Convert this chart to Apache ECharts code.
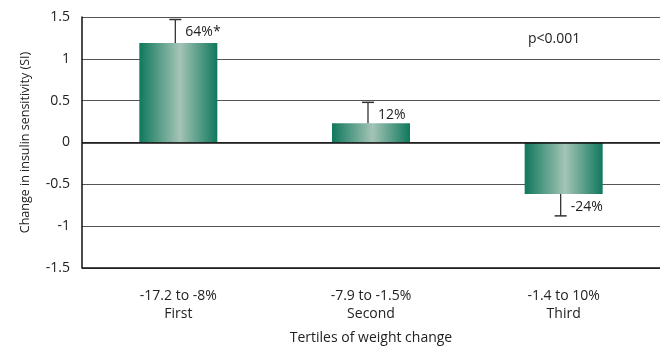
<!DOCTYPE html>
<html><head><meta charset="utf-8">
<script src="https://cdn.jsdelivr.net/npm/echarts@6/dist/echarts.min.js"></script>
<style>html,body{margin:0;padding:0;background:#fff}#c{width:661px;height:347px}</style>
</head><body><div id="c"></div>
<script>
const ranges = ['-17.2 to -8%', '-7.9 to -1.5%', '-1.4 to 10%'];
const tertiles = ['First', 'Second', 'Third'];
const values = [1.19, 0.23, -0.615];
const errorEnds = [1.47, 0.48, -0.877];
const pctLabels = ['64%*', '12%', '-24%'];
const yTicks = [-1.5, -1, -0.5, 0, 0.5, 1, 1.5];
const pText = 'p<0.001';

const FONT = '"Open Sans", sans-serif';
const categories = ranges.map((r, i) => r + '\n' + tertiles[i]);

const chart = echarts.init(document.getElementById('c'));
chart.setOption({
  animation: false,
  grid: { left: 82, right: 1, top: 17, bottom: 79, containLabel: false, outerBoundsMode: 'none' },
  xAxis: {
    type: 'category', data: categories,
    name: 'Tertiles of weight change', nameLocation: 'middle', nameGap: 63,
    nameTextStyle: { fontFamily: FONT, fontSize: 14, color: '#222' },
    axisLine: { show: false }, axisTick: { show: false },
    axisLabel: { fontFamily: FONT, fontSize: 14, color: '#222', lineHeight: 18, margin: 19 }
  },
  yAxis: {
    type: 'value', min: -1.5, max: 1.5, interval: 0.5,
    name: 'Change in insulin sensitivity (SI)', nameLocation: 'middle', nameGap: 50,
    nameTextStyle: { fontFamily: FONT, fontSize: 12.5, color: '#222' },
    axisLine: { show: true, onZero: false, lineStyle: { color: '#111', width: 1.5 } },
    axisTick: { show: false },
    axisLabel: { fontFamily: FONT, fontSize: 14, color: '#222', margin: 12,
      formatter: v => yTicks.includes(v) ? String(v) : '' },
    splitLine: { show: true, lineStyle: { color: '#555', width: 1.2 } }
  },
  graphic: [{
    type: 'text', left: 528, top: 32,
    style: { text: pText, font: '14px ' + FONT, fill: '#222' }
  }],
  series: [{
    type: 'bar', data: values, barWidth: 78,
    itemStyle: {
      color: new echarts.graphic.LinearGradient(0, 0, 1, 0, [
        { offset: 0, color: '#0f785c' },
        { offset: 0.52, color: '#a4c4b6' },
        { offset: 1, color: '#0f785c' }
      ])
    },
    markLine: {
      silent: true, symbol: 'none', label: { show: false },
      lineStyle: { color: '#111', width: 1.5, type: 'solid' },
      data: [{ yAxis: 0 }, { yAxis: -1.5 }]
    },
    z: 2
  }, {
    type: 'custom',
    data: values.map((v, i) => [i, v, errorEnds[i]]),
    z: 3,
    renderItem: function (params, api) {
      const i = api.value(0);
      const p0 = api.coord([i, api.value(1)]);
      const p1 = api.coord([i, api.value(2)]);
      const x = p0[0] - 3;
      const up = api.value(2) > api.value(1);
      return {
        type: 'group', children: [
          { type: 'line', shape: { x1: x, y1: p0[1], x2: x, y2: p1[1] }, style: { stroke: '#333', lineWidth: 1.3 } },
          { type: 'line', shape: { x1: x - 6, y1: p1[1], x2: x + 6, y2: p1[1] }, style: { stroke: '#333', lineWidth: 1.5 } },
          { type: 'text', x: x + 10, y: p1[1] + (up ? 13 : -9),
            style: { text: pctLabels[i], font: '14px ' + FONT, fill: '#222', verticalAlign: 'middle', align: 'left' } }
        ]
      };
    }
  }]
});
</script></body></html>
